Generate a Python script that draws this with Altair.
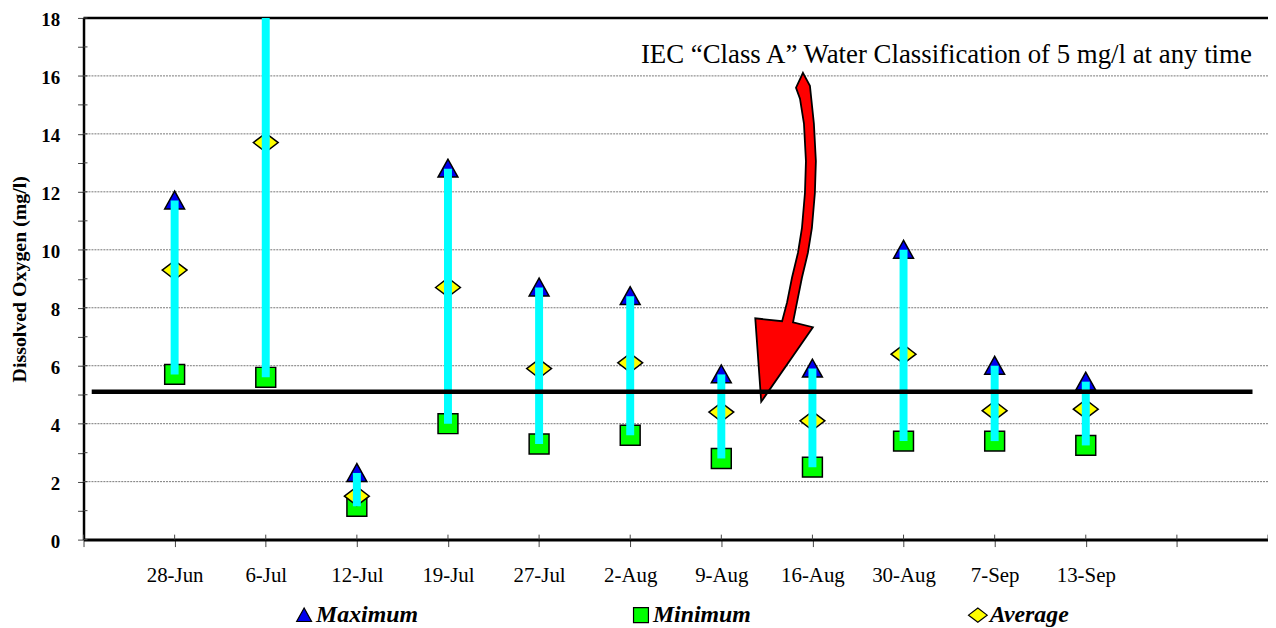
import json
import altair as alt
import pandas as pd

# ---------------- data ----------------
dates = ["28-Jun", "6-Jul", "12-Jul", "19-Jul", "27-Jul", "2-Aug", "9-Aug",
         "16-Aug", "30-Aug", "7-Sep", "13-Sep"]
maximum = [11.7, 19.8, 2.3, 12.8, 8.7, 8.4, 5.7, 5.9, 10.0, 6.0, 5.45]
minimum = [5.7, 5.6, 1.15, 4.0, 3.3, 3.6, 2.8, 2.5, 3.4, 3.4, 3.25]
average = [9.3, 13.7, 1.5, 8.7, 5.9, 6.1, 4.4, 4.1, 6.4, 4.45, 4.5]
series_names = ["Maximum", "Minimum", "Average"]
series_colors = ["#0000EE", "#00FF00", "#FFFF00"]
x_ticks = list(range(14))
y_ticks = list(range(19))
grid_values = [2, 4, 6, 8, 10, 12, 14, 16]
threshold_value = 5.1
threshold_span = [0.09, 12.83]
annotation = "IEC \u201cClass A\u201d Water Classification of 5 mg/l at any time"
annotation_pos = [9.47, 16.73]
arrow_tip = [7.438, 4.757]

FONT = "Liberation Serif"

idx = list(range(1, len(dates) + 1))
wide = pd.DataFrame({"idx": idx, "date": dates, "Maximum": maximum,
                     "Minimum": minimum, "Average": average})
long = wide.melt(id_vars=["idx", "date"], value_vars=series_names,
                 var_name="series", value_name="value")

tick_labels = [""] + dates + ["", ""]
X = alt.Scale(domain=[0, 13], nice=False, zero=False)
Y = alt.Scale(domain=[0, 18], nice=False)

x_axis = alt.Axis(values=x_ticks, labelExpr=json.dumps(tick_labels) + "[datum.value]",
                  title=None, grid=False, domainColor="black", domainWidth=3,
                  tickColor="#444", tickSize=7, tickWidth=1, labelFont=FONT, labelFontSize=21,
                  labelPadding=18, labelColor="black", labelFlush=False)
y_axis = alt.Axis(values=y_ticks,
                  labelExpr="datum.value % 2 == 0 ? datum.label : ''",
                  title="Dissolved Oxygen (mg/l)", grid=False, domainColor="black",
                  domainWidth=2.5, tickColor="#444", tickSize=6, tickWidth=1,
                  labelFont=FONT, labelFontSize=19, labelFontWeight="bold",
                  labelColor="black", labelPadding=18, labelOffset=2, titleFont=FONT,
                  titleFontSize=20, titleFontWeight="bold", titleColor="black",
                  titlePadding=11)

tri = "M0,-9.5L-10,8.5L10,8.5Z"
sq = "M-10,-10L10,-10L10,10L-10,10Z"
dia = "M-12.5,0L0,-9.5L12.5,0L0,9.5Z"

arrow_path = ("M42,-331L49,-318L53,-280L55,-242L54,-210L51,-175L47,-150L41,-125L36,-100"
              "L32,-80L52,-75L0,0L-6,-84L21,-81L26,-100L31,-125L37,-150L41,-175L44,-210"
              "L45,-242L43,-280L39,-305L35,-316Z")

leg = alt.Legend(title=None, orient="none", legendX=210, legendY=589,
                 direction="horizontal", gridAlign="all", columnPadding=212,
                 symbolSize=2.25, symbolStrokeWidth=1.2,
                 labelFont=FONT, labelFontSize=24, labelFontStyle="italic",
                 labelFontWeight="bold", labelColor="black", labelOffset=0,
                 padding=0, symbolOpacity=1)

grid = alt.Chart(pd.DataFrame({"g": grid_values})).mark_rule(
    color="#777", strokeDash=[2, 1], strokeWidth=1
).encode(y=alt.Y("g:Q", scale=Y, axis=y_axis))

top = alt.Chart(pd.DataFrame({"t": [18]})).mark_rule(color="black", strokeWidth=2.5).encode(
    y=alt.Y("t:Q", scale=Y, axis=y_axis))

# inner halves of the tick marks (ticks cross the axis lines)
xin = alt.Chart(pd.DataFrame({"t": x_ticks})).mark_rule(color="#444", strokeWidth=1).encode(
    x=alt.X("t:Q", scale=X, axis=x_axis), y=alt.value(525), y2=alt.value(520))
yin = alt.Chart(pd.DataFrame({"t": y_ticks})).mark_rule(color="#444", strokeWidth=1).encode(
    y=alt.Y("t:Q", scale=Y, axis=y_axis), x=alt.value(0), x2=alt.value(4))

points = alt.Chart(long).mark_point(
    filled=True, strokeWidth=1.5, size=4, opacity=1, clip=True
).encode(
    x=alt.X("idx:Q", scale=X, axis=x_axis),
    y=alt.Y("value:Q", scale=Y, axis=y_axis),
    fill=alt.Fill("series:N", scale=alt.Scale(domain=series_names, range=series_colors), legend=leg),
    stroke=alt.Stroke("series:N", scale=alt.Scale(domain=series_names, range=["black"] * 3), legend=leg),
    shape=alt.Shape("series:N", scale=alt.Scale(domain=series_names, range=[tri, sq, dia]), legend=leg),
)

bars = alt.Chart(wide).mark_rule(color="#00FFFF", strokeWidth=8, strokeCap="butt", clip=True).encode(
    x=alt.X("idx:Q", scale=X, axis=x_axis),
    y=alt.Y("Minimum:Q", scale=Y, axis=y_axis),
    y2="Maximum:Q",
)

arrow = alt.Chart(pd.DataFrame({"x": [arrow_tip[0]], "y": [arrow_tip[1]]})).mark_point(
    shape=arrow_path, filled=True, fill="#FF0000", stroke="black", strokeWidth=1.8,
    size=4, opacity=1
).encode(x=alt.X("x:Q", scale=X, axis=x_axis), y=alt.Y("y:Q", scale=Y, axis=y_axis))

thr = alt.Chart(pd.DataFrame({"x": [threshold_span[0]], "x2": [threshold_span[1]],
                              "y": [threshold_value]})).mark_rule(
    color="black", strokeWidth=4.5
).encode(x=alt.X("x:Q", scale=X, axis=x_axis), x2="x2:Q", y=alt.Y("y:Q", scale=Y, axis=y_axis))

text = alt.Chart(pd.DataFrame({"x": [annotation_pos[0]], "y": [annotation_pos[1]],
                               "t": [annotation]})).mark_text(
    font=FONT, fontSize=27, color="black", align="center", baseline="middle"
).encode(x=alt.X("x:Q", scale=X, axis=x_axis), y=alt.Y("y:Q", scale=Y, axis=y_axis), text="t:N")

chart = alt.layer(grid, top, xin, yin, points, bars, arrow, thr, text).properties(
    width=1192, height=525,
    padding={"left": 76, "top": 8, "right": 0, "bottom": 95},
    autosize="none",
).configure_view(strokeWidth=0)

chart.save("out.html", embed_options={"renderer": "svg", "actions": False})
